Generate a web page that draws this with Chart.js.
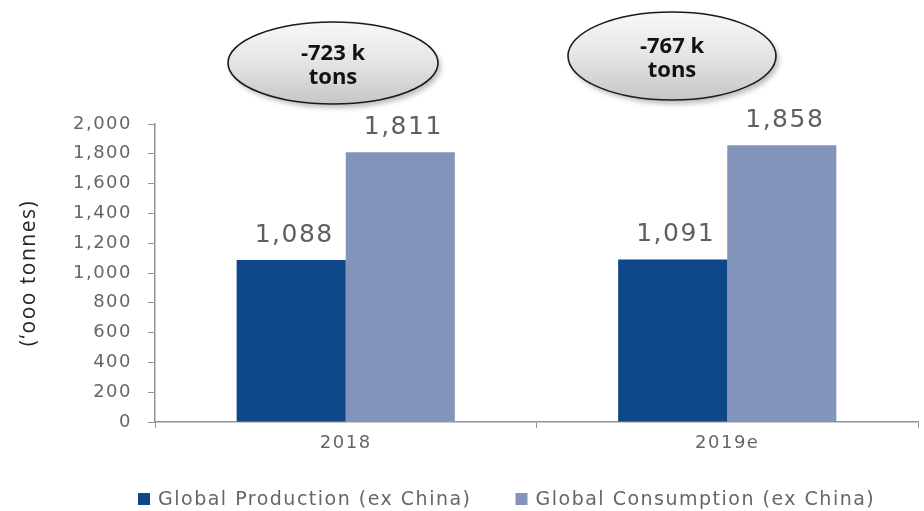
<!DOCTYPE html>
<html>
<head>
<meta charset="utf-8">
<title>Global production vs consumption (ex China)</title>
<script src="https://cdn.jsdelivr.net/npm/chart.js@4.4.1/dist/chart.umd.min.js"></script>
<style>
  html, body { margin: 0; padding: 0; background: #fff; }
  #wrap { width: 924px; height: 511px; }
</style>
</head>
<body>
<div id="wrap"><canvas id="supplyChart" width="924" height="511"></canvas></div>
<script>
// values in '000 tonnes
const years = ['2018', '2019e'];
const production = [1088, 1091];
const consumption = [1811, 1858];
const seriesNames = ['Global Production (ex China)', 'Global Consumption (ex China)'];
const seriesColors = ['#0E4787', '#8394BA'];
const yTickValues = [0, 200, 400, 600, 800, 1000, 1200, 1400, 1600, 1800, 2000];

const fmt = v => v.toLocaleString('en-US');
const TEXT_GREY = '#666666';
const LABEL_GREY = '#606060';
const AXIS_GREY = '#939393';

Chart.defaults.font.family = 'DejaVu Sans';

// the old Excel export had wide-set Verdana text, so loosen the tracking a bit
const trackingPlugin = {
    id: 'tracking',
    beforeUpdate(chart) { chart.ctx.letterSpacing = '1.5px'; },
    beforeLayout(chart) { chart.ctx.letterSpacing = '1.5px'; },
    beforeDraw(chart) { chart.ctx.letterSpacing = '1.5px'; }
};

// value printed above each bar
const barLabelPlugin = {
    id: 'barLabels',
    afterDatasetsDraw(chart) {
        const ctx = chart.ctx;
        ctx.save();
        ctx.font = '25px "DejaVu Sans"';
        ctx.fillStyle = LABEL_GREY;
        ctx.textAlign = 'center';
        ctx.textBaseline = 'alphabetic';
        chart.data.datasets.forEach((ds, di) => {
            chart.getDatasetMeta(di).data.forEach((bar, i) => {
                ctx.fillText(fmt(ds.data[i]), bar.x + 3, bar.y - 18);
            });
        });
        ctx.restore();
    }
};

// grey bubbles with the production shortfall for each year
const calloutPlugin = {
    id: 'callouts',
    afterDraw(chart, args, opts) {
        const ctx = chart.ctx;
        opts.bubbles.forEach((b, i) => {
            const gap = production[i] - consumption[i];
            ctx.save();
            const grad = ctx.createLinearGradient(0, b.y - b.ry, 0, b.y + b.ry);
            grad.addColorStop(0, '#f8f8f8');
            grad.addColorStop(0.5, '#e4e4e4');
            grad.addColorStop(1, '#c6c6c6');
            ctx.beginPath();
            ctx.ellipse(b.x, b.y, b.rx, b.ry, 0, 0, Math.PI * 2);
            ctx.shadowColor = 'rgba(0,0,0,0.25)';
            ctx.shadowBlur = 5;
            ctx.shadowOffsetX = 3;
            ctx.shadowOffsetY = 4;
            ctx.fillStyle = grad;
            ctx.fill();
            ctx.shadowColor = 'transparent';
            ctx.lineWidth = 1.6;
            ctx.strokeStyle = '#1a1a1a';
            ctx.stroke();

            ctx.letterSpacing = '0px';
            ctx.font = 'bold 22px "Open Sans"';
            ctx.fillStyle = '#111';
            ctx.textAlign = 'center';
            ctx.textBaseline = 'alphabetic';
            ctx.fillText(fmt(gap) + ' k', b.x, b.y - 3);
            ctx.fillText('tons', b.x, b.y + 21);
            ctx.restore();
        });
    }
};

// legend row under the axis
const legendRowPlugin = {
    id: 'legendRow',
    afterDraw(chart, args, opts) {
        const ctx = chart.ctx;
        ctx.save();
        ctx.font = '19px "DejaVu Sans"';
        ctx.textBaseline = 'middle';
        ctx.textAlign = 'left';
        let x = opts.x;
        chart.data.datasets.forEach(ds => {
            ctx.fillStyle = ds.backgroundColor;
            ctx.fillRect(x, opts.y - 6, 12, 12);
            x += 12 + opts.boxGap;
            ctx.fillStyle = TEXT_GREY;
            ctx.fillText(ds.label, x, opts.y + 1);
            x += ctx.measureText(ds.label).width + opts.itemGap;
        });
        ctx.restore();
    }
};

new Chart(document.getElementById('supplyChart'), {
    type: 'bar',
    data: {
        labels: years,
        datasets: [
            {
                label: seriesNames[0],
                data: production,
                backgroundColor: seriesColors[0],
                borderWidth: 0,
                categoryPercentage: 0.572,
                barPercentage: 1
            },
            {
                label: seriesNames[1],
                data: consumption,
                backgroundColor: seriesColors[1],
                borderWidth: 0,
                categoryPercentage: 0.572,
                barPercentage: 1
            }
        ]
    },
    options: {
        responsive: false,
        animation: false,
        layout: {
            padding: { top: 124, right: 6, bottom: 49, left: 0 }
        },
        plugins: {
            legend: { display: false },
            tooltip: { enabled: false },
            callouts: {
                bubbles: [
                    { x: 333, y: 63, rx: 105, ry: 41 },
                    { x: 672, y: 56, rx: 104, ry: 44 }
                ]
            },
            legendRow: { x: 138, y: 499, boxGap: 8, itemGap: 44 }
        },
        scales: {
            x: {
                grid: {
                    display: true,
                    drawOnChartArea: false,
                    drawTicks: true,
                    tickLength: 6,
                    color: AXIS_GREY,
                    offset: true
                },
                border: { color: AXIS_GREY, width: 1.5 },
                ticks: {
                    color: TEXT_GREY,
                    font: { size: 18 },
                    padding: 5
                },
                afterFit(scale) { scale.height = 40; }
            },
            y: {
                min: 0,
                max: 2000,
                grid: {
                    drawOnChartArea: false,
                    tickLength: 7,
                    color: AXIS_GREY
                },
                border: { color: AXIS_GREY, width: 1.5 },
                ticks: {
                    color: TEXT_GREY,
                    font: { size: 18 },
                    padding: 16,
                    callback: v => fmt(v)
                },
                afterBuildTicks(scale) {
                    scale.ticks = yTickValues.map(v => ({ value: v }));
                },
                title: {
                    display: true,
                    text: '(‘ooo tonnes)',
                    color: '#262626',
                    font: { family: 'Open Sans', size: 21 },
                    padding: { top: 16, bottom: 0 }
                },
                afterFit(scale) { scale.width = 155; }
            }
        }
    },
    plugins: [trackingPlugin, barLabelPlugin, calloutPlugin, legendRowPlugin]
});
</script>
</body>
</html>
